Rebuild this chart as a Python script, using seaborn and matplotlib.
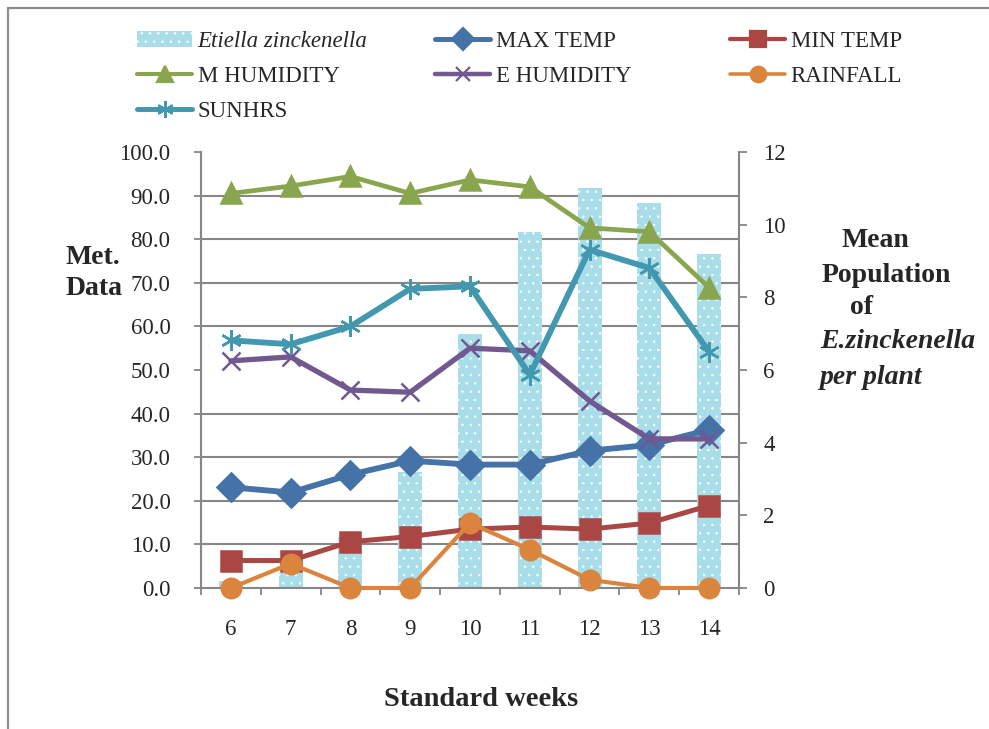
import numpy as np
import pandas as pd
import matplotlib
matplotlib.use("Agg")
import matplotlib.pyplot as plt
import seaborn as sns
from matplotlib.lines import Line2D
from matplotlib.patches import Patch, Rectangle

# ---------------- data ----------------
weeks = ["6", "7", "8", "9", "10", "11", "12", "13", "14"]
population = [0.2, 0.4, 1.4, 3.2, 7.0, 9.8, 11.0, 10.6, 9.2]
max_temp = [23.1, 21.9, 26.0, 29.2, 28.3, 28.3, 31.5, 32.8, 36.3]
min_temp = [6.3, 6.3, 10.6, 11.8, 13.5, 14.0, 13.5, 14.9, 18.9]
m_humidity = [90.5, 92.2, 94.4, 90.5, 93.6, 92.0, 82.6, 81.7, 68.9]
e_humidity = [52.1, 53.0, 45.4, 44.9, 55.0, 54.4, 42.9, 34.2, 34.2]
rainfall = [0.0, 5.6, 0.0, 0.0, 14.9, 8.8, 1.9, 0.0, 0.0]
sunhrs = [56.8, 55.9, 60.0, 68.6, 69.2, 48.9, 77.6, 73.4, 54.2]

series_names = ["MAX TEMP", "MIN TEMP", "M HUMIDITY", "E HUMIDITY", "RAINFALL", "SUNHRS"]
series_values = [max_temp, min_temp, m_humidity, e_humidity, rainfall, sunhrs]
series_colors = ["#4572A7", "#AA4643", "#89A54E", "#71588F", "#DB843D", "#4198AF"]
series_markers = ["D", "s", "^", "x", "o", (6, 2, 0)]
series_msize = [14, 14, 14, 13, 14, 15]
series_lw = [4.2, 3.6, 3.4, 3.8, 3.0, 4.2]
bar_color = "#A9DDE9"

# ---------------- figure ----------------
sns.set_theme(style="white")
plt.rcParams["font.family"] = ["Liberation Serif", "DejaVu Serif"]
plt.rcParams["hatch.color"] = "#98D2E0"
plt.rcParams["hatch.linewidth"] = 0.5

W, H = 989, 729
fig = plt.figure(figsize=(W / 100, H / 100), dpi=100)

def fx(x):
    return x / W

def fy(y):
    return 1 - y / H

# outer border
fig.add_artist(Rectangle((fx(8), fy(800)), 2.0, fy(8) - fy(800), transform=fig.transFigure,
                         fill=False, edgecolor="#8C8C8C", linewidth=1.6))

left, right, top, bottom = 201, 739, 152, 588
ax = fig.add_axes([fx(left), fy(bottom), fx(right) - fx(left), fy(top) - fy(bottom)])
ax.set_facecolor("none")
ax2 = ax.twinx()

grey = "#868686"

# bars (right-hand scale)
bar_df = pd.DataFrame({"week": weeks, "population": population})
sns.barplot(data=bar_df, x="week", y="population", ax=ax, color=bar_color,
            saturation=1, width=0.4, linewidth=0, hatch="..", zorder=2)
ax.set_ylim(0, 12)
ax.set_xlim(-0.5, len(weeks) - 0.5)
ax.yaxis.tick_right()
ax.yaxis.set_label_position("right")
ax.set_yticks(np.arange(0, 13, 2))
ax.set_yticklabels([str(v) for v in range(0, 13, 2)])
ax.set_yticks(np.arange(0, 12.01, 1.2), minor=True)
ax.grid(True, which="minor", axis="y", color=grey, linewidth=1.5, zorder=0)
ax.grid(False, which="major")
ax.set_axisbelow(True)
ax.tick_params(axis="y", which="minor", length=0, left=False, right=False)
ax.tick_params(axis="y", which="major", direction="out", length=5.5, width=1.3,
               color=grey, labelsize=16.5, pad=12, right=True, left=False,
               labelright=True, labelleft=False)
ax.set_xticks(range(len(weeks)))
ax.set_xticklabels(weeks)
ax.set_xticks(np.arange(-0.5, len(weeks), 1.0), minor=True)
ax.tick_params(axis="x", which="major", length=0, labelsize=16.5, pad=22)
ax.tick_params(axis="x", which="minor", direction="out", length=5, width=1.3,
               color=grey, bottom=True)
ax.set_xlabel("")
ax.set_ylabel("")
for s in ["left", "right", "bottom"]:
    ax.spines[s].set_color(grey)
    ax.spines[s].set_linewidth(1.5)
ax.spines["top"].set_visible(False)

# lines (left-hand scale)
xpos = np.arange(len(weeks))
for name, vals, col, mk, ms, lw in zip(series_names, series_values, series_colors,
                                       series_markers, series_msize, series_lw):
    df = pd.DataFrame({"x": xpos, "y": vals})
    sns.lineplot(data=df, x="x", y="y", ax=ax2, color=col, linewidth=lw,
                 marker=mk, markersize=ms, markeredgecolor=col, markerfacecolor=col,
                 markeredgewidth=1.8, clip_on=False, legend=False)
ax2.set_ylim(0, 100)
ax2.set_xlim(-0.5, len(weeks) - 0.5)
ax2.yaxis.tick_left()
ax2.yaxis.set_label_position("left")
ax2.set_yticks(np.arange(0, 101, 10))
ax2.set_yticklabels([f"{v:.1f}" for v in range(0, 101, 10)])
ax2.tick_params(axis="y", direction="out", length=5, width=1.3, color=grey,
                labelsize=16.5, pad=17, left=True, right=False,
                labelleft=True, labelright=False)
ax2.set_xlabel("")
ax2.set_ylabel("")
for s in ax2.spines.values():
    s.set_visible(False)

# axis titles
fig.text(fx(66), fy(273), "Met.\nData", fontsize=20, fontweight="bold",
         ha="left", va="center", linespacing=1.3)
right_lines = [("Mean", 841, 240, "normal"), ("Population", 822, 275, "normal"),
               ("of", 850, 308, "normal"), ("E.zinckenella", 820, 342, "italic"),
               ("per plant", 820, 377, "italic")]
for txt, x, y, st in right_lines:
    fig.text(fx(x), fy(y), txt, fontsize=20, fontweight="bold", style=st,
             ha="left", va="center")
fig.text(fx(481), fy(700), "Standard weeks", fontsize=20.5, fontweight="bold",
         ha="center", va="center")

# legend (three columns placed like the original)
def line_handle(i):
    return Line2D([], [], color=series_colors[i], linewidth=series_lw[i] * 0.85,
                  marker=series_markers[i], markersize=series_msize[i] * 0.8,
                  markeredgecolor=series_colors[i], markerfacecolor=series_colors[i],
                  markeredgewidth=1.6)

bar_handle = Patch(facecolor=bar_color, hatch="..", linewidth=0)
columns = [
    (137, [bar_handle, line_handle(2), line_handle(5)],
     ["Etiella zinckenella", "M HUMIDITY", "SUNHRS"]),
    (435, [line_handle(0), line_handle(3)], ["MAX TEMP", "E HUMIDITY"]),
    (730, [line_handle(1), line_handle(4)], ["MIN TEMP", "RAINFALL"]),
]
for x0, hs, ls in columns:
    leg = fig.legend(hs, ls, loc="upper left", bbox_to_anchor=(fx(x0), fy(31)),
                     bbox_transform=fig.transFigure, frameon=False, fontsize=16.5,
                     handlelength=2.4, handletextpad=0.25, labelspacing=0.6,
                     borderpad=0, borderaxespad=0)
    if ls[0].startswith("Etiella"):
        leg.get_texts()[0].set_style("italic")

fig.savefig("out.png", dpi=100)
